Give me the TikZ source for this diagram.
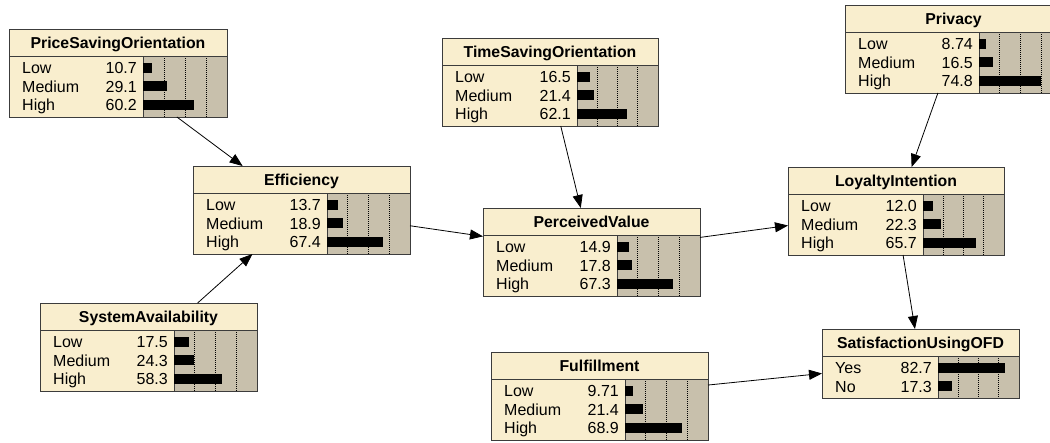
\documentclass[tikz,border=0pt]{standalone}
\usepackage{fontspec}
\setmainfont{Liberation Sans}
\usetikzlibrary{arrows.meta}

\definecolor{nodecream}{RGB}{249,238,206}
\definecolor{beliefbg}{RGB}{200,192,172}
\definecolor{nodeframe}{RGB}{60,60,60}

\tikzset{
  bnframe/.style={draw=nodeframe, line width=0.9pt},
  bnanchor/.style={rectangle, inner sep=0pt, outer sep=0pt},
  statelabel/.style={inner sep=0pt, font=\fontsize{16}{18}\selectfont},
  titlelabel/.style={inner sep=0pt, font=\fontsize{15.8}{18}\selectfont\bfseries},
  link/.style={draw=black, line width=0.8pt, -{Triangle[length=13pt,width=10pt]}},
  gridline/.style={black, line width=0.8pt, dash pattern=on 1pt off 1pt},
}

% Belief-bar node: #1 name, #2 left, #3 top, #4 width, #5 width of the text column,
% #6 number of states, #7 title, #8 list of state/probability pairs
\newcommand{\beliefnode}[8]{%
  \pgfmathsetmacro{\bnh}{31+19*#6}
  \begin{scope}[shift={(#2,#3)}]
    \fill[nodecream] (0,0) rectangle (#4,\bnh);
    \fill[beliefbg] (#5,27) rectangle (#4,\bnh);
    \foreach \k in {1,2,3}
      \draw[gridline] ({#5+(#4-#5)*\k/4},27) -- ({#5+(#4-#5)*\k/4},\bnh);
    \draw[bnframe] (0,27) -- (#4,27) (#5,27) -- (#5,\bnh);
    \node[titlelabel, anchor=base] at ({#4/2},19) {#7};
    \foreach \lab/\val [count=\i] in {#8} {
      \pgfmathsetmacro{\ry}{38.5+18.8*(\i-1)}
      \node[statelabel, anchor=base west] at (13,\ry+5.7) {\lab};
      \node[statelabel, anchor=base east] at ({#5-6},\ry+5.7) {\val};
      \fill ({#5},\ry-5) rectangle ({#5+(#4-#5)*\val/100},\ry+5);
    }
    \node[bnanchor, bnframe, minimum width=#4, minimum height=\bnh] (#1) at ({#4/2},{\bnh/2}) {};
  \end{scope}
}

\begin{document}
\begin{tikzpicture}[x=1pt,y=-1pt]
  \useasboundingbox (0,0) rectangle (1050,442);
  \clip (0,0) rectangle (1050,442);
  \fill[white] (0,0) rectangle (1050,442);

  \beliefnode{pso}{9}{29}{218}{134}{3}{PriceSavingOrientation}{Low/10.7,Medium/29.1,High/60.2}
  \beliefnode{tso}{442}{38}{216}{135}{3}{TimeSavingOrientation}{Low/16.5,Medium/21.4,High/62.1}
  \beliefnode{priv}{845}{5}{217}{134}{3}{Privacy}{Low/8.74,Medium/16.5,High/74.8}
  \beliefnode{eff}{193}{166}{217}{134}{3}{Efficiency}{Low/13.7,Medium/18.9,High/67.4}
  \beliefnode{pv}{483}{208}{217}{134}{3}{PerceivedValue}{Low/14.9,Medium/17.8,High/67.3}
  \beliefnode{li}{788}{167}{216}{135}{3}{LoyaltyIntention}{Low/12.0,Medium/22.3,High/65.7}
  \beliefnode{sa}{40}{303}{217}{134}{3}{SystemAvailability}{Low/17.5,Medium/24.3,High/58.3}
  \beliefnode{ful}{491}{352}{217}{134}{3}{Fulfillment}{Low/9.71,Medium/21.4,High/68.9}
  \beliefnode{sat}{822}{329}{197}{116}{2}{SatisfactionUsingOFD}{Yes/82.7,No/17.3}

  \draw[link] (pso) -- (eff);
  \draw[link] (sa) -- (eff);
  \draw[link] (eff) -- (pv);
  \draw[link] (tso) -- (pv);
  \draw[link] (pv) -- (li);
  \draw[link] (priv) -- (li);
  \draw[link] (li) -- (sat);
  \draw[link] (ful) -- (sat);
\end{tikzpicture}
\end{document}
